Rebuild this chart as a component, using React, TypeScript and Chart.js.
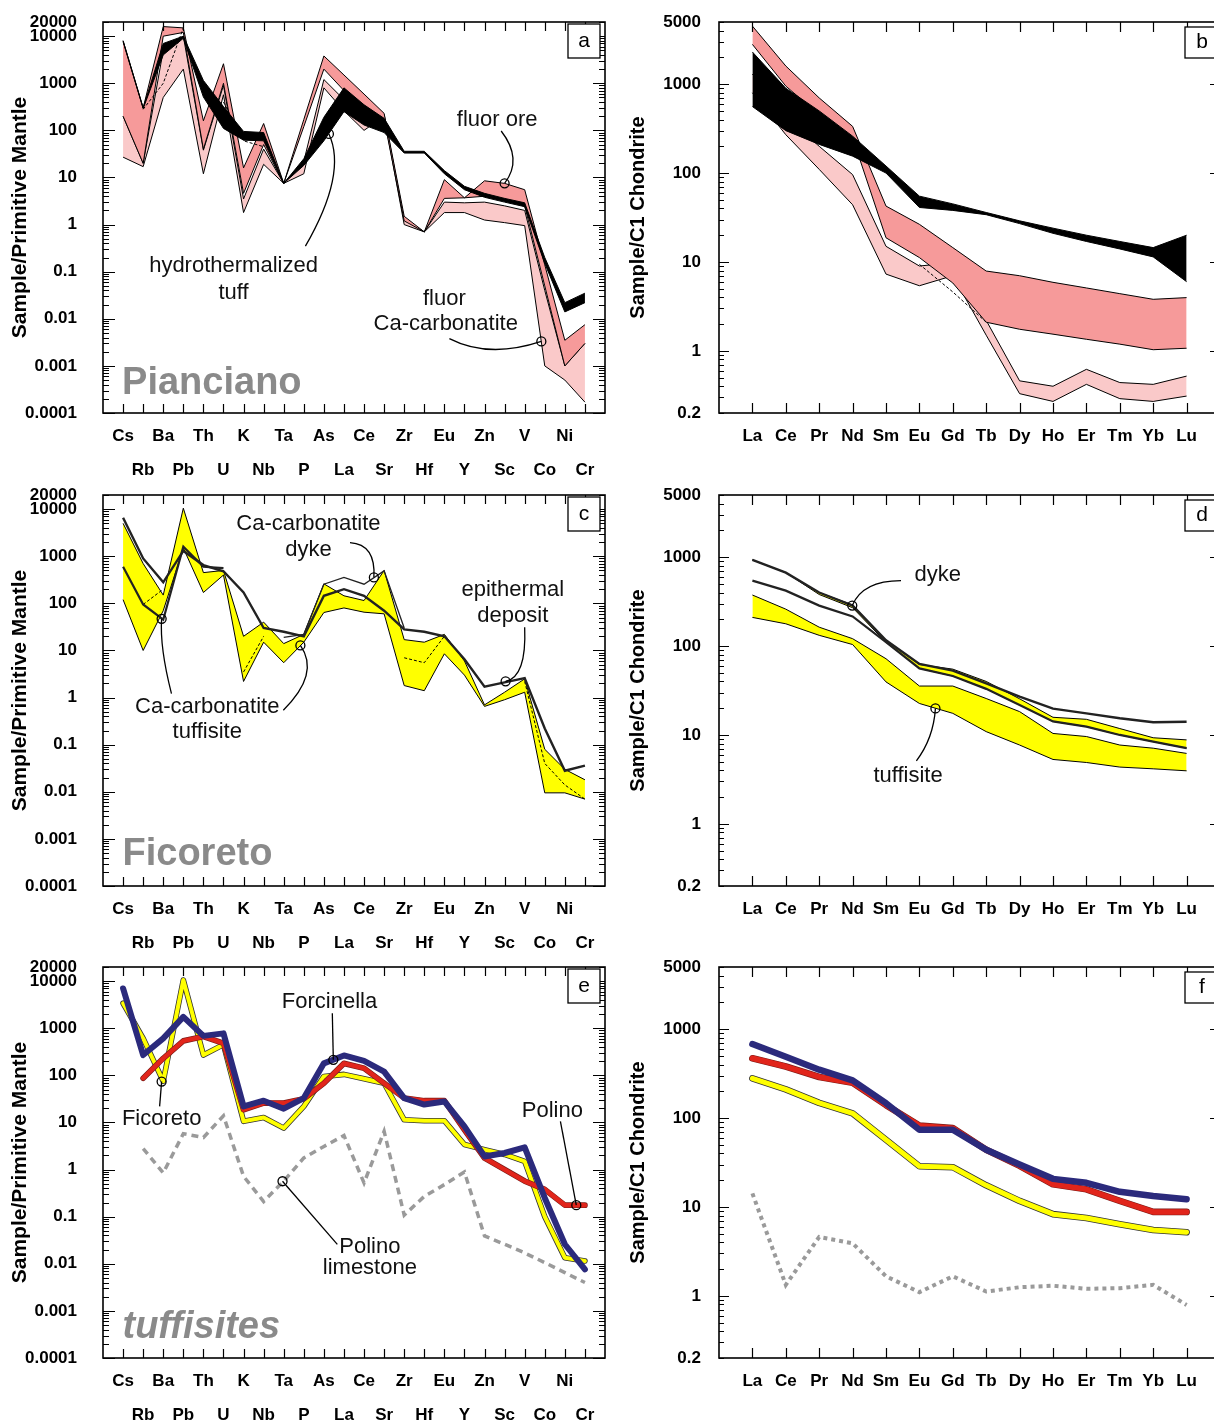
import React, { useEffect, useRef } from 'react';
import { Chart, registerables } from 'chart.js';

Chart.register(...registerables);

const FONT = '"Liberation Sans", Arial, Helvetica, sans-serif';

// ---------- categories & ticks ----------
const TRACE = ['Cs', 'Rb', 'Ba', 'Pb', 'Th', 'U', 'K', 'Nb', 'Ta', 'P', 'As', 'La', 'Ce', 'Sr', 'Zr', 'Hf', 'Eu', 'Y', 'Zn', 'Sc', 'V', 'Co', 'Ni', 'Cr'];
const REE = ['La', 'Ce', 'Pr', 'Nd', 'Sm', 'Eu', 'Gd', 'Tb', 'Dy', 'Ho', 'Er', 'Tm', 'Yb', 'Lu'];

const TRACE_TICKS = [20000, 10000, 1000, 100, 10, 1, 0.1, 0.01, 0.001, 0.0001];
const TRACE_TICK_LABELS = ['20000', '10000', '1000', '100', '10', '1', '0.1', '0.01', '0.001', '0.0001'];
const REE_TICKS = [5000, 1000, 100, 10, 1, 0.2];
const REE_TICK_LABELS = ['5000', '1000', '100', '10', '1', '0.2'];

// ---------- (a) Pianciano, trace elements ----------
const A_CARB_HI = [200, 20, 5000, 10000, 38, 900, 3.5, 40, 7.5, 22, 1200, 450, 150, 220, 1.3, 0.7, 3.0, 2.9, 3.0, 2.5, 2.0, 0.04, 0.001, 0.003];
const A_CARB_LO = [27, 17, 500, 2000, 12, 570, 1.8, 19, 7.5, 12, 800, 260, 100, 200, 1.0, 0.7, 1.8, 1.8, 1.25, 1.1, 0.95, 0.001, 0.0005, 0.00017];
const A_ORE_HI = [8000, 300, 16000, 15000, 160, 2600, 16, 140, 7.5, 170, 3800, 1500, 590, 230, 1.5, 0.7, 9, 3.7, 8.5, 7.5, 5.5, 0.14, 0.0035, 0.0075];
const A_ORE_LO = [200, 20, 10000, 12000, 40, 1000, 4.6, 50, 7.5, 120, 2000, 700, 250, 170, 1.2, 0.7, 3.6, 3.7, 4.0, 3.5, 2.5, 0.05, 0.001, 0.003];
const A_TUFF_HI = [8000, 300, 7000, 10000, 1150, 320, 95, 90, 7.5, 25, 190, 800, 350, 180, 36, 36, 14, 6.5, 4.6, 3.6, 2.9, 0.2, 0.022, 0.035];
const A_TUFF_LO = [7600, 290, 4000, 9000, 510, 110, 62, 60, 7.5, 18, 60, 250, 130, 90, 33, 33, 12, 5.5, 3.8, 3.0, 2.4, 0.15, 0.014, 0.022];
const A_DASHED = [null, 280, 1000, 15000, null, 400, 60, 45, null, null, null, null, null, null, null, null, null, null, null, null, null, null, null, null];

// ---------- (b) Pianciano, REE ----------
const B_CARB_HI = [1300, 430, 200, 96, 15, 9, 9.8, 2.2, 0.46, 0.4, 0.62, 0.44, 0.42, 0.52];
const B_CARB_LO = [800, 270, 110, 44, 7.3, 5.4, 7, 1.5, 0.33, 0.27, 0.42, 0.29, 0.27, 0.31];
const B_ORE_HI = [4500, 1600, 700, 335, 42.5, 26.5, 14.5, 7.9, 7.0, 5.9, 5.1, 4.4, 3.8, 3.97];
const B_ORE_LO = [2800, 950, 455, 250, 18.7, 11.2, 5.8, 2.1, 1.75, 1.54, 1.35, 1.19, 1.03, 1.07];
const B_TUFF_HI = [2300, 900, 500, 260, 120, 55, 45, 36, 29, 24, 20, 17, 14.5, 20];
const B_TUFF_LO = [560, 300, 210, 155, 100, 41, 38, 34, 27, 21, 17, 14, 11.4, 6];
const B_DASHED = [null, null, null, null, null, 9.4, 4.6, 2.1, null, null, null, null, null, null];

// ---------- (c) Ficoreto, trace elements ----------
const C_TUFF_HI = [5000, 700, 150, 10500, 450, 500, 20, 40, 14, 22, 260, 145, 115, 500, 17, 15, 22, 6, 0.7, 1.3, 2.5, 0.08, 0.03, 0.018];
const C_TUFF_LO = [120, 10, 70, 1500, 170, 400, 2.2, 15, 5.5, 15, 64, 80, 65, 60, 1.8, 1.4, 8.5, 3.0, 0.65, 0.9, 1.3, 0.0095, 0.0095, 0.007];
const C_LINE1 = [6600, 900, 280, 1300, 650, 480, 170, 30, 25, 20, 145, 200, 145, 70, 28, 25, 20, 6.5, 1.7, 2.1, 2.6, 0.22, 0.028, 0.036];
const C_LINE2 = [600, 95, 45, 1600, 600, 560, null, null, null, null, null, null, null, null, null, null, null, null, null, null, null, null, null, null];
const C_DYKE = [null, null, null, null, null, null, null, null, 19, 22, 255, 355, 255, 490, 30, null, null, null, null, null, null, null, null, null];
const C_DASHED = [null, 95, 200, null, null, null, 3.5, 20, null, null, null, null, null, null, 7, 5.5, 20, null, null, null, 2.2, 0.04, 0.014, 0.007];

// ---------- (d) Ficoreto, REE ----------
const D_TOP = [930, 670, 400, 285, 116, 63, 53, 38, 27, 19.8, 17.5, 15.4, 13.9, 14.1];
const D_DYKE_HI = [930, 670, 400, 290, 116, 62, 55, 40, 25.5, 15.8, 15, 11.8, 9.3, 8.8];
const D_DYKE_LO = [930, 670, 380, 270, 110, 56, 46, 33, 21.7, 14.2, 12.4, 10, 8.4, 7.1];
const D_SECOND = [545, 420, 285, 215, 111, 56, 46, 33, 21.7, 14.2, 12.4, 10, 8.4, 7.1];
const D_TUFF_HI = [375, 260, 163, 121, 72, 35.5, 35.5, 25.7, 18.3, 10.4, 9.6, 7.7, 7.1, 6.2];
const D_TUFF_LO = [210, 178, 132, 104, 39.5, 22.6, 17.5, 10.9, 7.7, 5.3, 4.9, 4.35, 4.16, 3.95];

// ---------- (e) tuffisites, trace elements ----------
const E_FICORETO = [3400, 610, 75, 10600, 270, 450, 10.6, 12.8, 7.6, 22, 95, 105, 85, 68, 11.4, 10.9, 10.9, 3.4, 2.65, 2.1, 1.5, 0.1, 0.0135, 0.0115];
const E_POLINO = [null, 87, 230, 540, 670, 480, 18.7, 25.8, 25.8, 32, 68, 180, 142, 68, 33, 29, 29, 7, 1.76, 1.0, 0.57, 0.38, 0.176, 0.176];
const E_FORCINELLA = [7000, 270, 610, 1750, 690, 780, 22, 29, 19.6, 33, 180, 265, 203, 120, 33, 24, 28, 8.3, 1.9, 2.25, 2.97, 0.25, 0.026, 0.0076];
const E_LIMESTONE = [null, 2.8, 0.85, 5.8, 4.8, 13.9, 0.72, 0.21, 0.57, 1.77, 3.1, 5.3, 0.52, 6.5, 0.108, 0.27, 0.48, 0.89, 0.039, 0.026, 0.017, 0.0106, 0.0065, 0.004];

// ---------- (f) tuffisites, REE ----------
const F_FORCINELLA = [680, 490, 350, 265, 147, 74, 74, 44, 30, 20.7, 18.7, 14.8, 13.3, 12.2];
const F_POLINO = [470, 380, 290, 250, 140, 82, 77, 44, 29, 18, 15.8, 11.7, 8.8, 8.8];
const F_FICORETO = [280, 210, 148, 113, 57, 28.7, 28, 17.5, 11.7, 8.3, 7.5, 6.4, 5.5, 5.2];
const F_LIMESTONE = [14.2, 1.33, 4.6, 3.9, 1.66, 1.1, 1.66, 1.12, 1.25, 1.3, 1.2, 1.22, 1.33, 0.79];

// ---------- colours ----------
const ORE = '#F69A9A';
const CARB = '#FAC9C9';
const YEL = '#FFFF00';
const NAVY = '#2B2A7C';
const RED = '#E1251B';
const GREY = '#9A9A9A';

// ---------- dataset helpers ----------
const pts = (arr: (number | null)[]) => arr.map((v, i) => ({ x: i, y: v }));
function ln(arr: (number | null)[], color: string, width: number, extra: any = {}) {
  return {
    data: pts(arr), borderColor: color, backgroundColor: color, borderWidth: width,
    pointRadius: 0, pointHoverRadius: 0, fill: false, tension: 0, spanGaps: false, ...extra,
  };
}
function band(hi: number[], lo: number[], color: string) {
  return [ln(lo, '#000', 1, { fill: '+1', backgroundColor: color }), ln(hi, '#000', 1)];
}
function outlined(arr: (number | null)[], color: string, width: number, edge: string, ew: number) {
  return [
    ln(arr, edge, width + ew, { borderJoinStyle: 'round', borderCapStyle: 'round' }),
    ln(arr, color, width, { borderJoinStyle: 'round', borderCapStyle: 'round' }),
  ];
}

// ---------- layout ----------
const COLS = [
  { cx: 0, W: 612, left: 103, right: 605, cats: TRACE, ticks: TRACE_TICKS, labels: TRACE_TICK_LABELS, ymin: 0.0001, ymax: 20000, yTitle: 'Sample/Primitive Mantle', titleSize: 21, titlePad: 8, yPad: 26, twoRow: true, majorLen: 12, minorLen: 6, rightMinor: true, tickLen: 9, box: { dx: 37, dy: 2, w: 32, h: 34 } },
  { cx: 612, W: 612, left: 107, right: 608, cats: REE, ticks: REE_TICKS, labels: REE_TICK_LABELS, ymin: 0.2, ymax: 5000, yTitle: 'Sample/C1 Chondrite', titleSize: 20, titlePad: 14, yPad: 18, twoRow: false, majorLen: 10, minorLen: 5, rightMinor: false, tickLen: 10, box: { dx: 35, dy: 5, w: 40, h: 31 } },
];
const ROWS = [
  { cy: 0, H: 492, top: 22, bottom: 413 },
  { cy: 472, H: 492, top: 23, bottom: 414 },
  { cy: 944, H: 479, top: 23, bottom: 414 },
];

type Ann = {
  texts: [number, number, string][];
  leaders: number[][][];
  circles: number[][];
  big?: { x: number; y: number; t: string; italic?: boolean };
};

const PANELS: { letter: string; col: number; row: number; datasets: () => any[]; ann: Ann }[] = [
  {
    letter: 'a', col: 0, row: 0,
    datasets: () => [
      ...band(A_CARB_HI, A_CARB_LO, CARB),
      ...band(A_ORE_HI, A_ORE_LO, ORE),
      ...band(A_TUFF_HI, A_TUFF_LO, '#000'),
      ln(A_DASHED, '#000', 1, { borderDash: [3, 2] }),
    ],
    ann: {
      texts: [[18.63, 165, 'fluor ore'], [5.5, 0.132, 'hydrothermalized'], [5.5, 0.036, 'tuff'], [16.0, 0.027, 'fluor'], [16.07, 0.0078, 'Ca-carbonatite']],
      leaders: [
        [[18.83, 97], [19.92, 24.4], [19, 7.5]],
        [[9.08, 0.348], [11.17, 12.3], [10.25, 84]],
        [[16.25, 0.0038], [18.21, 0.00141], [20.83, 0.0033]],
      ],
      circles: [[19, 7.5], [10.25, 84], [20.83, 0.0033]],
      big: { x: -0.05, y: 0.00043, t: 'Pianciano' },
    },
  },
  {
    letter: 'b', col: 1, row: 0,
    datasets: () => [
      ...band(B_CARB_HI, B_CARB_LO, CARB),
      ...band(B_ORE_HI, B_ORE_LO, ORE),
      ...band(B_TUFF_HI, B_TUFF_LO, '#000'),
      ln(B_DASHED, '#000', 1, { borderDash: [3, 2] }),
    ],
    ann: { texts: [], leaders: [], circles: [] },
  },
  {
    letter: 'c', col: 0, row: 1,
    datasets: () => [
      ...band(C_TUFF_HI, C_TUFF_LO, YEL),
      ln(C_DASHED, '#000', 1, { borderDash: [3, 2] }),
      ln(C_DYKE, '#222', 1.3),
      ln(C_LINE2, '#222', 2.2),
      ln(C_LINE1, '#222', 2.4),
    ],
    ann: {
      texts: [[9.23, 4770, 'Ca-carbonatite'], [9.23, 1345, 'dyke'], [19.41, 192, 'epithermal'], [19.41, 55, 'deposit'], [4.19, 0.635, 'Ca-carbonatite'], [4.19, 0.188, 'tuffisite']],
      leaders: [
        [[11.3, 1954], [12.59, 1803], [12.49, 356]],
        [[20.0, 31.2], [20.1, 2.73], [19.05, 2.21]],
        [[2.41, 1.215], [1.82, 11.8], [1.92, 46.9]],
        [[7.98, 0.54], [9.82, 3.21], [8.83, 12.8]],
      ],
      circles: [[12.49, 356], [19.05, 2.21], [1.92, 46.9], [8.83, 12.8]],
      big: { x: -0.03, y: 0.000464, t: 'Ficoreto' },
    },
  },
  {
    letter: 'd', col: 1, row: 1,
    datasets: () => [
      ...band(D_TUFF_HI, D_TUFF_LO, YEL),
      ...band(D_DYKE_HI, D_DYKE_LO, YEL),
      ln(D_SECOND, '#222', 2.2),
      ln(D_TOP, '#222', 2.4),
    ],
    ann: {
      texts: [[5.55, 629, 'dyke'], [4.66, 3.42, 'tuffisite']],
      leaders: [
        [[4.45, 543], [3.3, 543], [2.99, 285]],
        [[4.91, 5.12], [5.42, 9.15], [5.48, 19.9]],
      ],
      circles: [[2.99, 285], [5.48, 19.9]],
    },
  },
  {
    letter: 'e', col: 0, row: 2,
    datasets: () => [
      ln(E_LIMESTONE, GREY, 3.5, { borderDash: [7, 5] }),
      ...outlined(E_FICORETO, YEL, 4, '#333', 1.6),
      ...outlined(E_POLINO, RED, 4.5, '#7a1a16', 1.2),
      ln(E_FORCINELLA, NAVY, 6, { borderJoinStyle: 'round', borderCapStyle: 'round' }),
    ],
    ann: {
      texts: [[10.28, 3566, 'Forcinella'], [1.92, 12.0, 'Ficoreto'], [21.38, 17.8, 'Polino'], [12.29, 0.0225, 'Polino'], [12.29, 0.0083, 'limestone']],
      leaders: [
        [[10.42, 2085], [10.47, 214]],
        [[1.82, 22.0], [1.92, 74]],
        [[21.78, 10.6], [22.57, 0.176]],
        [[10.67, 0.0258], [7.94, 0.566]],
      ],
      circles: [[10.47, 214], [1.92, 74], [22.57, 0.176], [7.94, 0.566]],
      big: { x: -0.03, y: 0.000442, t: 'tuffisites', italic: true },
    },
  },
  {
    letter: 'f', col: 1, row: 2,
    datasets: () => [
      ln(F_LIMESTONE, GREY, 4, { borderDash: [4, 4] }),
      ...outlined(F_FICORETO, YEL, 5, '#333', 1.6),
      ...outlined(F_POLINO, RED, 5.5, '#7a1a16', 1.2),
      ln(F_FORCINELLA, NAVY, 6.5, { borderJoinStyle: 'round', borderCapStyle: 'round' }),
    ],
    ann: { texts: [], leaders: [], circles: [] },
  },
];

function makeDecor(c: any, ann: Ann, letter: string) {
  return {
    id: 'decor_' + letter,
    afterDraw(chart: any) {
      const { ctx, chartArea: a } = chart;
      const xs = chart.scales.x;
      const ys = chart.scales.y;
      const X = (v: number) => xs.getPixelForValue(v);
      const Y = (v: number) => ys.getPixelForValue(v);
      ctx.save();
      ctx.strokeStyle = '#000';
      ctx.lineWidth = 1.2;
      ctx.beginPath();
      c.cats.forEach((_: string, i: number) => {
        const px = Math.round(X(i)) + 0.5;
        ctx.moveTo(px, a.top);
        ctx.lineTo(px, a.top + c.tickLen);
        ctx.moveTo(px, a.bottom);
        ctx.lineTo(px, a.bottom - c.tickLen);
      });
      const k0 = Math.floor(Math.log10(c.ymin) + 1e-9);
      const k1 = Math.ceil(Math.log10(c.ymax) - 1e-9);
      for (let k = k0; k <= k1; k++) {
        for (let m = 1; m <= 9; m++) {
          const v = m * Math.pow(10, k);
          if (v < c.ymin * 0.999 || v > c.ymax * 1.001) continue;
          const py = Math.round(Y(v)) + 0.5;
          const major = m === 1;
          const len = major ? c.majorLen : c.minorLen;
          ctx.moveTo(a.left, py);
          ctx.lineTo(a.left + len, py);
          if (major || c.rightMinor) {
            ctx.moveTo(a.right, py);
            ctx.lineTo(a.right - len, py);
          }
        }
      }
      ctx.stroke();
      ctx.lineWidth = 1.6;
      ctx.strokeRect(a.left, a.top, a.right - a.left, a.bottom - a.top);

      // panel letter box
      const bx = a.right - c.box.dx;
      const by = a.top + c.box.dy;
      ctx.fillStyle = '#fff';
      ctx.fillRect(bx, by, c.box.w, c.box.h);
      ctx.lineWidth = 1.3;
      ctx.strokeRect(bx, by, c.box.w, c.box.h);
      ctx.fillStyle = '#000';
      ctx.font = `21px ${FONT}`;
      ctx.textAlign = 'center';
      ctx.textBaseline = 'middle';
      ctx.fillText(letter, c.col === 0 ? bx + c.box.w / 2 : bx + 17, by + c.box.h / 2);

      // leaders
      ctx.lineWidth = 1.3;
      ann.leaders.forEach((L) => {
        ctx.beginPath();
        ctx.moveTo(X(L[0][0]), Y(L[0][1]));
        if (L.length === 3) ctx.quadraticCurveTo(X(L[1][0]), Y(L[1][1]), X(L[2][0]), Y(L[2][1]));
        else ctx.lineTo(X(L[1][0]), Y(L[1][1]));
        ctx.stroke();
      });
      ann.circles.forEach(([cx, cy]) => {
        ctx.beginPath();
        ctx.arc(X(cx), Y(cy), 4.5, 0, Math.PI * 2);
        ctx.stroke();
      });
      ctx.fillStyle = '#111';
      ctx.font = `22px ${FONT}`;
      ctx.textAlign = 'center';
      ctx.textBaseline = 'middle';
      ann.texts.forEach(([tx, ty, t]) => ctx.fillText(t, X(tx), Y(ty)));
      if (ann.big) {
        ctx.fillStyle = '#8a8a8a';
        ctx.font = `${ann.big.italic ? 'italic ' : ''}bold 38px ${FONT}`;
        ctx.textAlign = 'left';
        ctx.fillText(ann.big.t, X(ann.big.x), Y(ann.big.y));
      }
      ctx.restore();
    },
  };
}

function makeOptions(c: any, r: any) {
  return {
    responsive: false,
    animation: false,
    devicePixelRatio: 1,
    events: [],
    layout: { padding: { top: r.top, right: c.W - c.right, left: 0, bottom: 0 } },
    plugins: { legend: { display: false }, tooltip: { enabled: false }, title: { display: false } },
    scales: {
      x: {
        type: 'linear', min: -1, max: c.cats.length,
        grid: { display: false, drawTicks: false }, border: { display: false },
        afterBuildTicks: (s: any) => { s.ticks = c.cats.map((_: string, i: number) => ({ value: i })); },
        afterFit: (s: any) => { s.height = r.H - r.bottom; s.paddingLeft = 0; s.paddingRight = 0; },
        ticks: {
          autoSkip: false, maxRotation: 0, minRotation: 0, padding: 6, color: '#000',
          font: { family: FONT, size: 17, weight: 'bold', lineHeight: 2 },
          callback: (v: number) => {
            const i = Math.round(v);
            const n = c.cats[i];
            if (n === undefined) return '';
            return c.twoRow && i % 2 === 1 ? ['', n] : [n];
          },
        },
      },
      y: {
        type: 'logarithmic', min: c.ymin, max: c.ymax,
        grid: { display: false, drawTicks: false }, border: { display: false },
        afterBuildTicks: (s: any) => { s.ticks = c.ticks.map((v: number) => ({ value: v })); },
        afterFit: (s: any) => { s.width = c.left; s.paddingTop = 0; s.paddingBottom = 0; },
        ticks: {
          autoSkip: false, padding: c.yPad, color: '#000',
          font: { family: FONT, size: 17, weight: 'bold' },
          callback: (v: number) => {
            const k = c.ticks.findIndex((t: number) => Math.abs(t - v) < t * 1e-6);
            return k >= 0 ? c.labels[k] : '';
          },
        },
        title: {
          display: true, text: c.yTitle, color: '#000',
          font: { family: FONT, size: c.titleSize, weight: 'bold' },
          padding: { top: c.titlePad, bottom: 0 },
        },
      },
    },
  };
}

function Panel({ p }: { p: (typeof PANELS)[number] }) {
  const ref = useRef<HTMLCanvasElement>(null);
  const c = { ...COLS[p.col], col: p.col };
  const r = ROWS[p.row];
  useEffect(() => {
    if (!ref.current) return;
    const ds = p.datasets();
    const n = ds.length;
    ds.forEach((d: any, i: number) => { d.order = n - i; });
    const chart = new Chart(ref.current, {
      type: 'line',
      data: { datasets: ds },
      options: makeOptions(c, r) as any,
      plugins: [makeDecor(c, p.ann, p.letter)],
    });
    return () => chart.destroy();
  }, []);
  return (
    <canvas
      ref={ref}
      width={c.W}
      height={r.H}
      style={{ position: 'absolute', left: c.cx, top: r.cy, width: c.W, height: r.H }}
    />
  );
}

export default function App() {
  return (
    <div style={{ position: 'absolute', left: 0, top: 0, width: 1214, height: 1423, overflow: 'hidden', background: '#fff' }}>
      {PANELS.map((p) => <Panel key={p.letter} p={p} />)}
    </div>
  );
}
